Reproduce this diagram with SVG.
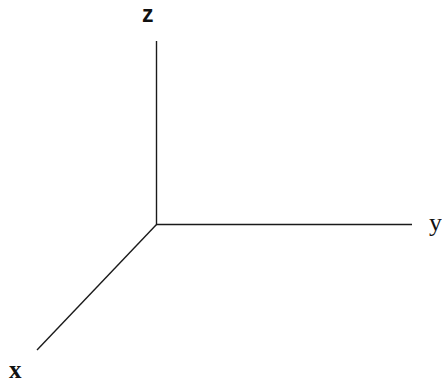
<svg xmlns="http://www.w3.org/2000/svg" width="442" height="383" viewBox="0 0 442 383">
<style>
.axis{stroke:#1a1a1a;stroke-width:1.4;fill:none;stroke-linecap:butt}
.lbl{fill:#111}
.sans{font-family:"Liberation Sans",Arial,sans-serif}
.serif{font-family:"Liberation Serif","Times New Roman",serif}
</style>
<rect width="442" height="383" fill="#ffffff"/>
<g id="connectors">
<line class="axis" x1="156.5" y1="41" x2="156.5" y2="224.5"/>
<line class="axis" x1="156" y1="224.5" x2="412" y2="224.5"/>
<line class="axis" x1="156.5" y1="224.5" x2="37" y2="350"/>
</g>
<g id="node-z"><text class="lbl sans" x="142" y="21.5" font-size="23" font-weight="bold">z</text></g>
<g id="node-y"><text class="lbl serif" x="429" y="231" font-size="26">y</text></g>
<g id="node-x"><text class="lbl serif" x="9" y="378" font-size="25" font-weight="bold">x</text></g>
</svg>
